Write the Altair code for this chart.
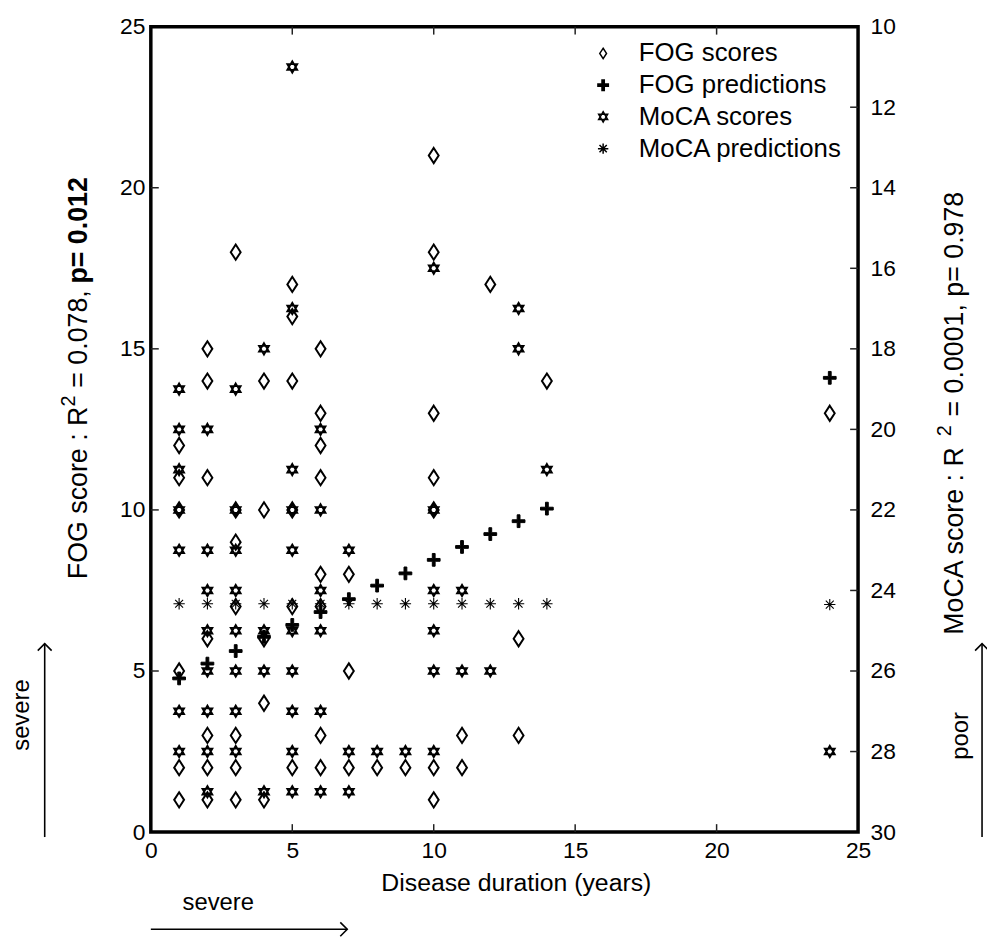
import altair as alt
import pandas as pd

FONT = "Liberation Sans"
SERIES = ["FOG scores", "FOG predictions", "MoCA scores", "MoCA predictions"]

# ---------------- data ----------------
fog_score_years = [1, 1, 1, 1, 1, 1,
                   2, 2, 2, 2, 2, 2, 2,
                   3, 3, 3, 3, 3, 3, 3,
                   4, 4, 4, 4, 4,
                   5, 5, 5, 5, 5, 5,
                   6, 6, 6, 6, 6, 6, 6, 6,
                   7, 7, 7,
                   8,
                   9,
                   10, 10, 10, 10, 10, 10, 10,
                   11, 11,
                   12,
                   13, 13,
                   14,
                   24]
fog_score_values = [12, 11, 10, 5, 2, 1,
                    15, 14, 11, 6, 3, 2, 1,
                    18, 10, 9, 7, 3, 2, 1,
                    14, 10, 6, 4, 1,
                    17, 16, 14, 10, 7, 2,
                    15, 13, 12, 11, 8, 7, 3, 2,
                    8, 5, 2,
                    2,
                    2,
                    21, 18, 13, 11, 10, 2, 1,
                    3, 2,
                    17,
                    6, 3,
                    14,
                    13]

moca_score_years = [1, 1, 1, 1, 1, 1, 1,
                    2, 2, 2, 2, 2, 2, 2, 2,
                    3, 3, 3, 3, 3, 3, 3, 3,
                    4, 4, 4, 4,
                    5, 5, 5, 5, 5, 5, 5, 5, 5, 5,
                    6, 6, 6, 6, 6, 6,
                    7, 7, 7,
                    8,
                    9,
                    10, 10, 10, 10, 10, 10,
                    11, 11,
                    12,
                    13, 13,
                    14,
                    24]
moca_score_values = [19, 20, 21, 22, 23, 27, 28,
                     20, 23, 24, 25, 26, 27, 28, 29,
                     19, 22, 23, 24, 25, 26, 27, 28,
                     18, 25, 26, 29,
                     11, 17, 21, 22, 23, 25, 26, 27, 28, 29,
                     20, 22, 24, 25, 27, 29,
                     23, 28, 29,
                     28,
                     28,
                     16, 22, 24, 25, 26, 28,
                     24, 26,
                     26,
                     17, 18,
                     21,
                     28]

pred_years = [1, 2, 3, 4, 5, 6, 7, 8, 9, 10, 11, 12, 13, 14, 24]
fog_pred_values = [4.77, 5.23, 5.62, 6.06, 6.43, 6.83, 7.23, 7.65, 8.03,
                   8.45, 8.85, 9.25, 9.65, 10.04, 14.1]
moca_pred_values = [24.33, 24.33, 24.33, 24.33, 24.33, 24.33, 24.33, 24.33,
                    24.33, 24.33, 24.33, 24.33, 24.33, 24.33, 24.35]

x_ticks = [0, 5, 10, 15, 20, 25]
x_inner_ticks = [5, 10, 15, 20]
fog_ticks = [0, 5, 10, 15, 20, 25]
fog_inner_ticks = [5, 10, 15, 20]
moca_ticks = [10, 12, 14, 16, 18, 20, 22, 24, 26, 28, 30]
moca_inner_ticks = [12, 14, 16, 18, 20, 22, 24, 26, 28]

# ---------------- geometry / style ----------------
W, H = 713, 812

DIAMOND = "M0,-1L0.65,0L0,1L-0.65,0Z"
PLUS = ("M-0.22,-1L0.22,-1L0.22,-0.22L1,-0.22L1,0.22L0.22,0.22L0.22,1L-0.22,1"
        "L-0.22,0.22L-1,0.22L-1,-0.22L-0.22,-0.22Z")
HEXAGRAM = "M0,-1L0.866,0.5L-0.866,0.5Z M0,1L0.866,-0.5L-0.866,-0.5Z"
ASTERISK = "M0,-1L0,1M-1,0L1,0M-0.7,-0.7L0.7,0.7M-0.7,0.7L0.7,-0.7"

legend = alt.Legend(title=None, orient="none", legendX=443, legendY=14,
                    labelFont=FONT, labelFontSize=26, labelColor="black",
                    labelLimit=0,
                    symbolSize=110, symbolStrokeColor="black",
                    symbolStrokeWidth=1.5, rowPadding=6, labelOffset=23,
                    padding=0)
shape_scale = alt.Scale(domain=SERIES, range=[DIAMOND, PLUS, HEXAGRAM, ASTERISK])
fill_scale = alt.Scale(domain=SERIES,
                       range=["transparent", "black", "transparent", "transparent"])
stroke_scale = alt.Scale(domain=SERIES, range=["black", "black", "black", "black"])

x_axis = alt.Axis(values=x_ticks, title="Disease duration (years)",
                  titleFont=FONT, titleFontSize=25, titleFontWeight="normal",
                  titleColor="black", titlePadding=8, titleX=368,
                  labelPadding=8, labelFlush=False, labelOverlap=False,
                  format="d")
x_scale = alt.Scale(domain=[0, 25], nice=False, zero=False)

fog_axis = alt.Axis(values=fog_ticks, title=None, orient="left",
                    labelPadding=6, labelOverlap=False, labelFlush=False, format="d")
fog_scale = alt.Scale(domain=[0, 25], nice=False, zero=False)

moca_axis = alt.Axis(values=moca_ticks, title=None, orient="right",
                     labelPadding=12, labelOverlap=False, labelFlush=False, format="d")
moca_scale = alt.Scale(domain=[10, 30], reverse=True, nice=False, zero=False)


def df(years, values, series):
    return pd.DataFrame({"year": years, "value": values,
                         "series": [series] * len(years)})


def points(data, size, yscale, yaxis, sw=1.8):
    return alt.Chart(data).mark_point(
        filled=False, strokeWidth=sw, opacity=1, size=size
    ).encode(
        x=alt.X("year:Q", scale=x_scale, axis=x_axis),
        y=alt.Y("value:Q", scale=yscale, axis=yaxis),
        shape=alt.Shape("series:N", scale=shape_scale, legend=legend),
        fill=alt.Fill("series:N", scale=fill_scale, legend=legend),
        stroke=alt.Stroke("series:N", scale=stroke_scale, legend=legend),
    )


def annot(text, x, y, angle=0, size=24, weight="normal", dx=0, dy=0,
          align="left"):
    return alt.Chart(alt.Data(values=[{}])).mark_text(
        text=text, font=FONT, fontSize=size, fontWeight=weight, color="black",
        angle=angle, align=align, baseline="middle", dx=dx, dy=dy
    ).encode(x=alt.value(x), y=alt.value(y))


def arrow_line(x, y, x2=None, y2=None):
    enc = dict(x=alt.value(x), y=alt.value(y))
    if x2 is not None:
        enc["x2"] = alt.value(x2)
    if y2 is not None:
        enc["y2"] = alt.value(y2)
    return alt.Chart(alt.Data(values=[{}])).mark_rule(
        color="black", strokeWidth=1.6).encode(**enc)


def arrow_head(x, y, path):
    return alt.Chart(alt.Data(values=[{}])).mark_point(
        shape=path, size=196, filled=False, stroke="black", strokeWidth=1.6,
        opacity=1).encode(x=alt.value(x), y=alt.value(y))


UP = "M-1,1L0,0L1,1"
RIGHT = "M-1,-1L0,0L-1,1"

# ---------------- layers: left (FOG) axis ----------------
fog_scores = points(df(fog_score_years, fog_score_values, "FOG scores"),
                    235, fog_scale, fog_axis, sw=2)
fog_pred = points(df(pred_years, fog_pred_values, "FOG predictions"),
                  165, fog_scale, fog_axis, sw=1)

tick_style = dict(color="#222", strokeWidth=1.5)
x_top_ticks = alt.Chart(pd.DataFrame({"v": x_inner_ticks})).mark_rule(**tick_style).encode(
    x=alt.X("v:Q", scale=x_scale, axis=x_axis), y=alt.value(0), y2=alt.value(8))
x_bottom_ticks = alt.Chart(pd.DataFrame({"v": x_inner_ticks})).mark_rule(**tick_style).encode(
    x=alt.X("v:Q", scale=x_scale, axis=x_axis), y=alt.value(H - 8), y2=alt.value(H))
fog_ticks_layer = alt.Chart(pd.DataFrame({"v": fog_inner_ticks})).mark_rule(**tick_style).encode(
    y=alt.Y("v:Q", scale=fog_scale, axis=fog_axis), x=alt.value(0), x2=alt.value(8))

# left axis title with superscript and bold part (font 27, Arial metrics)
TS = 27
LX, LY = -72, 557
left_title = [
    annot("FOG score : R", LX, LY, angle=270, size=TS, dx=0),
    annot("2", LX, LY, angle=270, size=20, dx=174, dy=-10),
    annot("= 0.078,", LX, LY, angle=270, size=TS, dx=193),
    annot("p= 0.012", LX, LY, angle=270, size=TS, weight="bold", dx=298),
]
# right axis title
RX, RY = 811, 613
right_title = [
    annot("MoCA score : R", RX, RY, angle=270, size=TS, dx=0),
    annot("2", RX, RY, angle=270, size=20, dx=200, dy=-10),
    annot("= 0.0001, p= 0.978", RX, RY, angle=270, size=TS, dx=220),
]

decor = [
    annot("severe", -130, 694, angle=270, align="center"),
    arrow_line(-107, 817, y2=622), arrow_head(-107, 622, UP),
    annot("poor", 817, 715, angle=270, align="center"),
    arrow_line(838, 817, y2=622), arrow_head(838, 622, UP),
    annot("severe", 68, 884, align="center"),
    arrow_line(0, 910, x2=198), arrow_head(198, 910, RIGHT),
]

left_group = alt.layer(fog_scores, fog_pred, x_top_ticks, x_bottom_ticks,
                       fog_ticks_layer, *left_title, *right_title, *decor)

# ---------------- layers: right (MoCA) axis ----------------
moca_scores = points(df(moca_score_years, moca_score_values, "MoCA scores"),
                     135, moca_scale, moca_axis)
moca_pred = points(df(pred_years, moca_pred_values, "MoCA predictions"),
                   130, moca_scale, moca_axis, sw=1.1)
moca_ticks_layer = alt.Chart(pd.DataFrame({"v": moca_inner_ticks})).mark_rule(**tick_style).encode(
    y=alt.Y("v:Q", scale=moca_scale, axis=moca_axis), x=alt.value(W - 8), x2=alt.value(W))

right_group = alt.layer(moca_scores, moca_pred, moca_ticks_layer)

chart = alt.layer(left_group, right_group).resolve_scale(
    y="independent"
).properties(
    width=W, height=H,
    padding={"left": 144, "top": 15, "right": 130, "bottom": 108},
    autosize=alt.AutoSizeParams(type="none"),
).configure_view(
    stroke="black", strokeWidth=3.5
).configure_axis(
    grid=False, domain=False, ticks=False,
    labelFont=FONT, labelFontSize=23, labelColor="black",
).configure_legend(
    labelFont=FONT, labelFontSize=26,
)

chart.save("out.html", embed_options={"renderer": "svg", "actions": False})
